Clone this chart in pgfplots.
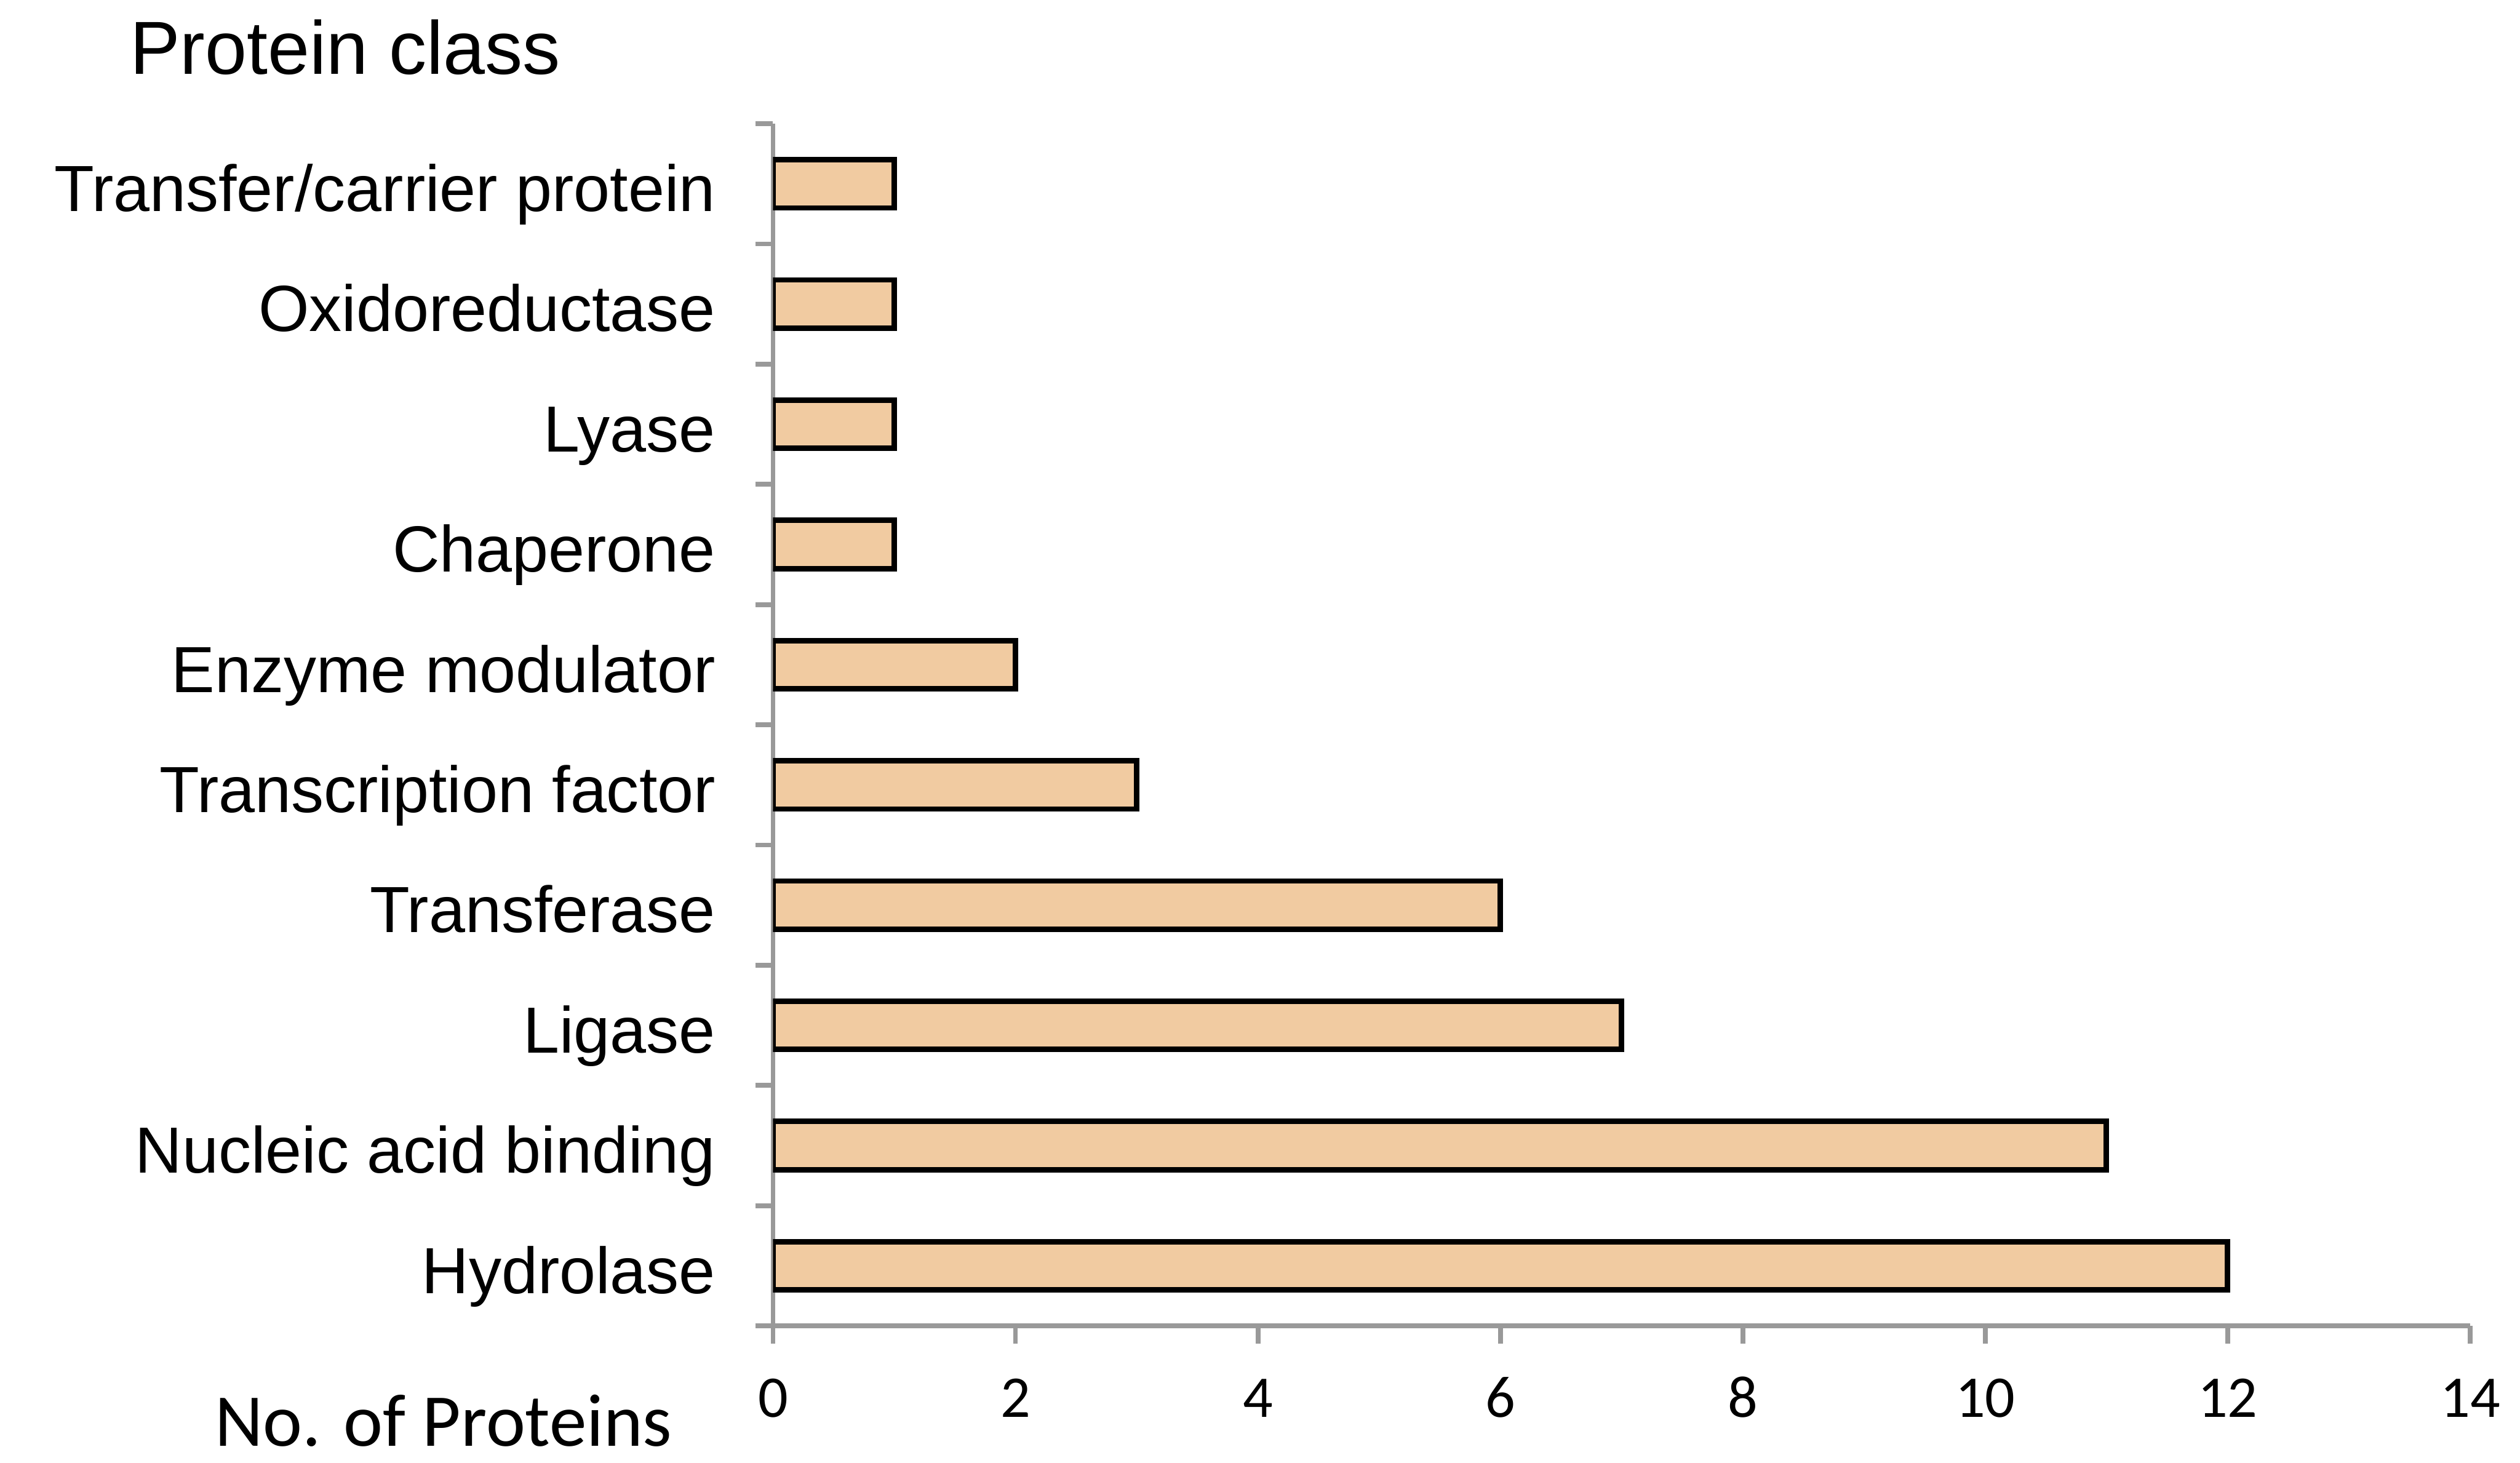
\documentclass[border=0pt]{standalone}
\usepackage{pgfplots}
\pgfplotsset{compat=1.18}
\usepackage{fontspec}
\setmainfont{Liberation Sans}
\newfontfamily\calibri{Carlito}
\definecolor{barfill}{RGB}{241,203,161}
\definecolor{axisgray}{RGB}{153,153,153}

\begin{document}
\begin{tikzpicture}
\begin{axis}[
  scale only axis,
  width=264pt, height=187pt,
  xmin=0, xmax=14, ymin=-0.5, ymax=9.5,
  axis x line*=bottom, axis y line*=left,
  axis line style={-, draw=axisgray, line width=0.75pt},
  tick align=outside,
  major tick length=2.75pt, minor tick length=2.75pt,
  tick style={draw=axisgray, line width=0.75pt},
  xtick={0,2,...,14},
  ytick={0,...,9},
  yticklabels={Hydrolase, Nucleic acid binding, Ligase, Transferase,
    Transcription factor, Enzyme modulator, Chaperone, Lyase,
    Oxidoreductase, Transfer/carrier protein},
  major y tick style={draw=none},
  minor ytick={-0.5,0.5,1.5,2.5,3.5,4.5,5.5,6.5,7.5,8.5,9.5},
  /pgf/number format/assume math mode=true,
  xticklabel style={font=\calibri\fontsize{9.2}{10}\selectfont, anchor=north,
    inner sep=0pt, text height=0.63em, text depth=0pt, yshift=-5pt},
  yticklabel style={font=\fontsize{10.15}{11}\selectfont, anchor=east,
    inner sep=0pt, text height=0.716em, text depth=0pt, xshift=-6pt,
    yshift=-0.7pt},
  xbar, bar width=7.5pt,
]
\addplot[fill=barfill, draw=black, line width=0.85pt] coordinates {
  (12,0) (11,1) (7,2) (6,3) (3,4) (2,5) (1,6) (1,7) (1,8) (1,9)
};
\end{axis}
\node[anchor=base west, inner sep=0pt, font=\fontsize{11.7}{13}\selectfont]
  at ([shift={(-100.25pt,7.75pt)}]current axis.north west) {Protein class};
\node[anchor=base west, inner sep=0pt, font=\calibri\fontsize{11.6}{13}\selectfont]
  at ([shift={(-87pt,-18.75pt)}]current axis.south west) {No. of Proteins};
\useasboundingbox ([shift={(-120.25pt,-21.25pt)}]current axis.south west)
  rectangle ([shift={(7.75pt,19.25pt)}]current axis.north east);
\end{tikzpicture}
\end{document}
